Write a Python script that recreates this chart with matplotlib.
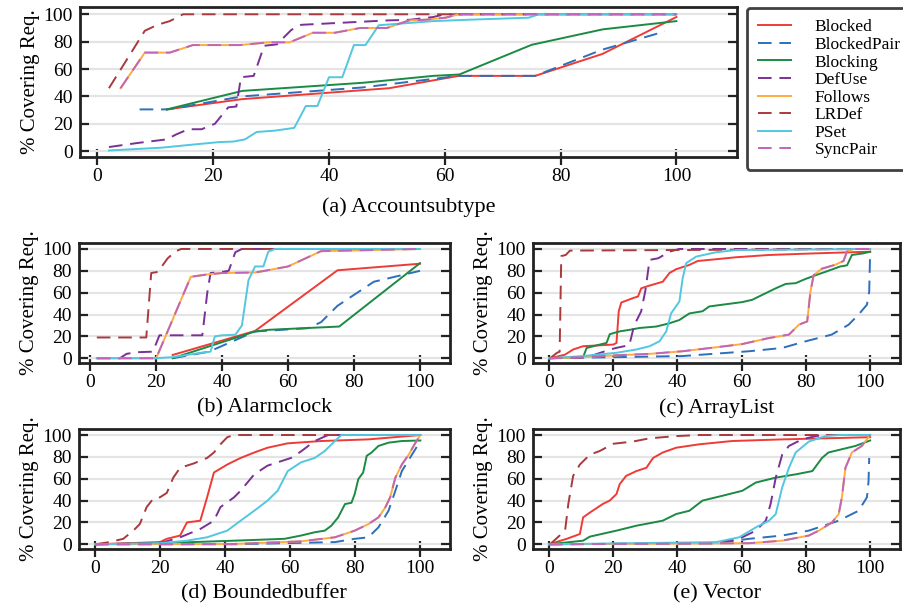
import matplotlib
matplotlib.use("Agg")
import matplotlib.pyplot as plt

plt.rcParams['font.family'] = ['Liberation Serif', 'DejaVu Serif']

SERIES = ['Blocked', 'BlockedPair', 'Blocking', 'DefUse',
          'Follows', 'LRDef', 'PSet', 'SyncPair']
COLORS = ['#ef3b36', '#2c6fbb', '#1b8a43', '#7a3095',
          '#ffab40', '#a8393d', '#52c7df', '#c066b8']
DASHED = ['BlockedPair', 'DefUse', 'LRDef', 'SyncPair']

# (x, y) per technique: % of runs vs % covering requirements
accountsubtype = {
    'Blocked': ([12, 25, 45.7, 50.4, 62.4, 75.6, 87.2, 100],
                [30.5, 38, 44.5, 46, 55, 55, 71, 98]),
    'BlockedPair': ([7.3, 12.2, 25, 45.7, 62.4, 75.6, 87.1, 98],
                    [30.5, 30.5, 40, 46.5, 55, 55, 74, 87.5]),
    'Blocking': ([12, 25, 46, 58, 62.5, 75, 87.3, 100],
                 [30.5, 44, 50, 55, 56, 77.7, 89, 95]),
    'DefUse': ([2, 7, 12, 13.5, 15.7, 18, 20.3, 22.6, 24, 24.8, 27, 28.8, 31, 33.5, 35.2, 50, 54, 58, 60, 100],
               [3, 6, 8.6, 12, 16, 16, 20, 32, 32.6, 54, 55, 77, 78, 88.6, 92.3, 95.5, 96, 98, 100, 100]),
    'Follows': ([4, 8.2, 12.5, 16.5, 24.6, 29.5, 33.2, 37.2, 41, 45.4, 50, 53.8, 56.6, 60.1, 62.4, 100],
                [46, 72, 72, 77.5, 77.5, 79.5, 79.5, 86.5, 86.5, 90, 90, 95.5, 96, 97.5, 100, 100]),
    'LRDef': ([2, 8.2, 10.5, 12.5, 14.8, 100],
              [46, 88, 92.5, 95, 100, 100]),
    'PSet': ([2, 11, 17, 21, 23.5, 25.5, 27.5, 30.7, 34, 36, 38, 40, 42.3, 44.3, 46.3, 48.6, 58, 64, 74.5, 76.2, 100],
             [0.5, 2.5, 5, 6.6, 7, 8.6, 14, 15, 17, 33, 33, 54, 54, 77.5, 77.5, 92, 95, 96, 97.5, 100, 100]),
    'SyncPair': ([4, 8.2, 12.5, 16.5, 24.6, 29.5, 33.2, 37.2, 41, 45.4, 50, 53.8, 56.6, 60.1, 62.4, 100],
                 [46, 72, 72, 77.5, 77.5, 79.5, 79.5, 86.5, 86.5, 90, 90, 95.5, 96, 97.5, 100, 100]),
}

alarmclock = {
    'Blocked': ([25, 50, 75, 100], [3, 25, 80.5, 86.5]),
    'BlockedPair': ([25, 36, 50, 66, 70, 75, 86, 100],
                    [0, 6, 24.5, 27.5, 33, 48, 70, 80]),
    'Blocking': ([25, 50, 54, 75.5, 100], [0, 24.5, 26, 29, 87]),
    'DefUse': ([2, 9, 11, 14, 19, 21, 34, 35.5, 36.5, 40, 42, 44, 46, 100],
               [0, 0, 4, 5.5, 6, 21, 21, 60, 78, 79, 80, 97, 100, 100]),
    'Follows': ([2, 20, 30.5, 35, 40, 50, 52, 60, 70, 75, 100],
                [0, 0, 74.5, 76.5, 78, 78.5, 79.5, 84, 98, 98.3, 100]),
    'LRDef': ([2, 17, 18.5, 20.5, 23.5, 26, 27.6, 100],
              [19, 19, 78, 79, 91.5, 98, 100, 100]),
    'PSet': ([2, 20, 25, 33.7, 36.5, 37.8, 40, 44, 46, 48, 50, 52.5, 54, 56, 100],
             [0, 0, 1, 5, 6, 20, 21, 21.5, 30, 71.5, 84, 84, 97.5, 100, 100]),
    'SyncPair': ([2, 20, 30.5, 35, 40, 50, 52, 60, 70, 75, 100],
                 [0, 0, 74.5, 76.5, 78, 78.5, 79.5, 84, 98, 98.3, 100]),
}

arraylist = {
    'Blocked': ([0.3, 5, 7.5, 10.6, 20, 21, 21.7, 22.5, 26.1, 27.7, 28.7, 31.3, 35.4, 37.5, 39.6, 43.7, 46.3, 52, 58.2, 68.5, 83, 100],
                [0, 3.3, 8, 11, 12.5, 14, 43, 51, 55, 56.5, 64, 66.5, 70, 78, 81.5, 85.4, 89, 90.6, 92.4, 94.5, 96, 97.5]),
    'BlockedPair': ([0, 41.6, 62.3, 72.6, 79.9, 88, 93.3, 96.4, 99, 99.7, 100],
                    [0, 2, 6.4, 9.4, 15.5, 21.6, 30.7, 40, 49, 61, 97.6]),
    'Blocking': ([0, 10.6, 11.7, 15.8, 17.9, 18.9, 22, 25.1, 28.2, 33.4, 37.5, 40.6, 43.7, 47.8, 49.9, 54, 60.2, 63.3,
                  66.4, 70.6, 73.7, 76.8, 79.9, 84, 86, 90.7, 92.8, 94.3, 97.9, 100],
                 [0, 1, 9.4, 12.5, 14, 22, 24.6, 26, 27.7, 29, 32, 35, 41, 43, 47.4, 49, 51.4, 53.5,
                  58, 64, 68, 68.7, 72.6, 77, 79, 84, 85, 94.5, 96, 97.5]),
    'DefUse': ([0, 10, 14, 19, 21, 25, 26.5, 28.7, 30, 31.3, 34, 37.5, 40.5, 100],
               [0, 0.5, 3, 8, 9.5, 12, 30, 43, 62, 90, 91.5, 97.5, 100, 100]),
    'Follows': ([0, 10.6, 21, 31.3, 41.6, 52, 60.2, 68.5, 74.7, 77.8, 80.4, 81.4, 82.4, 85, 89, 91.7, 92.8, 94.8, 100],
                [0, 1, 2.7, 4, 6.4, 10, 13, 18.5, 21.6, 30.7, 33.7, 61, 76, 82, 85.4, 89, 97.6, 100, 100]),
    'LRDef': ([0.3, 2.5, 3.3, 3.8, 5.2, 6.5, 100],
              [0, 5, 6, 93.5, 94.5, 98.5, 100]),
    'PSet': ([0, 10.6, 21, 27.2, 31.3, 34.4, 36.5, 38, 40.6, 41.6, 42.7, 45.8, 52, 58.2, 100],
             [0, 2, 5, 8, 11, 15.5, 24.6, 41, 52, 73, 87, 93, 97, 99, 100]),
    'SyncPair': ([0, 10.6, 21, 31.3, 41.6, 52, 60.2, 68.5, 74.7, 77.8, 80.4, 81.4, 82.4, 85, 89, 91.7, 92.8, 94.8, 100],
                 [0, 1, 2.7, 4, 6.4, 10, 13, 18.5, 21.6, 30.7, 33.7, 61, 76, 82, 85.4, 89, 97.6, 100, 100]),
}

boundedbuffer = {
    'Blocked': ([0, 19.9, 22, 26.1, 28.2, 32.3, 34.4, 36.5, 40.6, 44.7, 48.9, 53, 59.2, 69.5, 84, 100],
                [0, 2, 5, 8, 20, 21.6, 43, 65.7, 73, 79, 84, 88.4, 92.4, 94.5, 96, 100]),
    'BlockedPair': ([0, 42.7, 73.7, 79.8, 84, 87.1, 90.2, 92.3, 94.3, 97.4, 100],
                    [0, 0, 2, 5, 6.4, 15.5, 30.7, 49, 67, 82, 94.5]),
    'Blocking': ([0, 19.9, 42.7, 58.2, 63.3, 67.5, 70.6, 72.6, 74.7, 76.8, 78.8, 79.8, 80.9, 82.4, 83.5, 85, 87.1,
                  90.2, 94.3, 100],
                 [0, 1, 3.3, 5, 8, 11, 12.5, 17, 24.6, 36.8, 38, 46, 59.6, 65.7, 81, 84, 90,
                  93, 94.5, 95]),
    'DefUse': ([0, 20, 26.1, 32.3, 36.5, 38.5, 42.7, 44.7, 48.9, 53, 57.1, 60.2, 63.3, 67.5, 71.6, 100],
               [0, 1, 6.4, 14, 21.6, 34, 43, 49, 64, 72, 76, 79, 85, 94.5, 100, 100]),
    'Follows': ([0, 42.7, 63.3, 73.7, 79.8, 84, 87.1, 89.2, 90.7, 92.3, 94.3, 96.4, 98.5, 100],
                [0, 0.3, 2.7, 6.4, 12.5, 18.5, 24.6, 33.7, 43, 61, 73, 82, 93, 100]),
    'LRDef': ([0, 4.4, 8.6, 11.7, 13.7, 15.8, 17.9, 19.9, 22, 24, 26.1, 30.3, 34.4, 36.5, 38.5, 40.6, 42.7, 100],
              [0, 2, 5, 12.5, 18.5, 34, 42, 43, 47, 61, 70, 74, 79, 84, 91.5, 98, 100, 100]),
    'PSet': ([0, 19.9, 28.2, 34.4, 40.6, 44.7, 48.9, 53, 56.1, 59.2, 63.3, 67.5, 70.6, 73.7, 75.7, 100],
             [0, 1, 3.3, 6.4, 12.5, 21.6, 30.7, 40, 49, 67, 75, 79, 85.4, 94.5, 100, 100]),
    'SyncPair': ([0, 42.7, 63.3, 73.7, 79.8, 84, 87.1, 89.2, 90.7, 92.3, 94.3, 96.4, 98.5, 100],
                 [0, 0.3, 2.7, 6.4, 12.5, 18.5, 24.6, 33.7, 43, 61, 73, 82, 93, 100]),
}

vector = {
    'Blocked': ([0, 5.5, 9.6, 10.6, 12.7, 16.8, 18.9, 21, 22, 24, 27.2, 30.3, 32.4, 35.4, 39.6, 46.8, 57, 72.6, 100],
                [0, 5, 9.4, 24.6, 29, 37, 40, 46, 55, 62.6, 67, 70, 79, 84, 88.4, 91.5, 94.5, 96, 98]),
    'BlockedPair': ([0, 52, 62.3, 72.6, 80.9, 90.2, 96.4, 99, 99.5, 99.7],
                    [0, 1, 5, 8, 12.5, 21.6, 30.7, 43, 58, 79]),
    'Blocking': ([0, 10.6, 12.7, 21, 27.2, 35.4, 39.6, 43.7, 47.8, 54, 60.2, 64.4, 70.6, 76.8, 82, 85, 87, 91.2,
                  95.4, 100],
                 [0, 3.3, 7, 12.5, 17, 21.6, 27.7, 30.7, 40, 44.4, 49, 56.5, 61, 64, 67, 79, 84, 87,
                  90, 95]),
    'DefUse': ([0, 52, 59.2, 64.4, 67.5, 69, 70.6, 72.6, 74.7, 78.8, 83, 86, 100],
               [0, 1, 5, 12.5, 21.6, 37, 61, 82, 90, 96, 99, 100, 100]),
    'Follows': ([0, 62.3, 72.6, 80.9, 84, 88.1, 90.2, 91.2, 92.3, 94.3, 97.4, 100],
                [0, 1, 3.3, 8, 12.5, 20, 27.7, 43, 70, 84, 90, 100]),
    'LRDef': ([0.3, 5, 6, 7.5, 9.6, 12.7, 15.8, 20, 26.1, 31.3, 39.6, 46.8, 100],
              [0, 12.5, 37, 62.6, 73, 82, 85.4, 92, 94, 97, 99, 100, 100]),
    'PSet': ([0, 52, 59.2, 64.4, 68.5, 70.6, 72.6, 74.7, 76.8, 80.9, 86, 90.2, 100],
             [0, 2, 6.4, 15.5, 21.6, 27.7, 52, 70, 84, 94, 99, 100, 100]),
    'SyncPair': ([0, 62.3, 72.6, 80.9, 84, 88.1, 90.2, 91.2, 92.3, 94.3, 97.4, 100],
                 [0, 1, 3.3, 8, 12.5, 20, 27.7, 43, 70, 84, 90, 100]),
}

PANELS = [
    (accountsubtype, '(a) Accountsubtype', [0.0885, 0.743, 0.727, 0.2455], (-3, 110.5), 9),
    (alarmclock, '(b) Alarmclock', [0.0874, 0.406, 0.410, 0.196], (-3.4, 109), 5),
    (arraylist, '(c) ArrayList', [0.5896, 0.406, 0.406, 0.196], (-5, 109.3), 5),
    (boundedbuffer, '(d) Boundedbuffer', [0.0874, 0.1015, 0.410, 0.196], (-5, 109), 5),
    (vector, '(e) Vector', [0.5896, 0.1015, 0.406, 0.196], (-5, 109.3), 5),
]
TICKS = [0, 20, 40, 60, 80, 100]
INK = '#222222'

fig = plt.figure(figsize=(9.04, 6.11), dpi=100)

axes = []
for data, caption, rect, xlim, cap_pad in PANELS:
    ax = fig.add_axes(rect)
    for name, color in zip(SERIES, COLORS):
        xs, ys = data[name]
        ls = (0, (7, 4)) if name in DASHED else '-'
        ax.plot(xs, ys, color=color, lw=1.4, linestyle=ls, label=name)
    ax.set_xlim(*xlim)
    ax.set_ylim(-4.3, 105.3)
    ax.set_yticks(TICKS)
    ax.set_xticks(TICKS)
    # minor ticks at the same spots carry the inward marks on the top spine
    ax.set_xticks(TICKS, minor=True)
    ax.yaxis.grid(True, color='#e4e4e4', lw=1.6)
    ax.set_axisbelow(True)
    for sp in ax.spines.values():
        sp.set_linewidth(2.0)
        sp.set_color(INK)
    ax.tick_params(axis='y', direction='in', length=6.5, width=1.6, left=True, right=True,
                   labelsize=14, pad=5, color=INK)
    ax.tick_params(axis='x', which='major', direction='inout', length=12, width=1.6,
                   top=False, bottom=True, labelsize=14, pad=2, color=INK)
    ax.tick_params(axis='x', which='minor', direction='in', length=6.5, width=1.6,
                   top=True, bottom=False, labeltop=False, labelbottom=False, color=INK)
    ax.set_ylabel('% Covering Req.', fontsize=15, labelpad=3)
    ax.set_xlabel(caption, fontsize=16, labelpad=cap_pad)
    axes.append(ax)

handles, labels = axes[0].get_legend_handles_labels()
leg = fig.legend(handles, labels, loc='upper left', bbox_to_anchor=(747 / 904, 1 - 8 / 611),
                 fontsize=12.5, frameon=True, fancybox=True, handlelength=1.9,
                 handletextpad=1.35, labelspacing=0.08, borderpad=0.65, borderaxespad=0)
leg.get_frame().set_edgecolor('#111111')
leg.get_frame().set_linewidth(2.0)

fig.savefig('out.png', dpi=100)
